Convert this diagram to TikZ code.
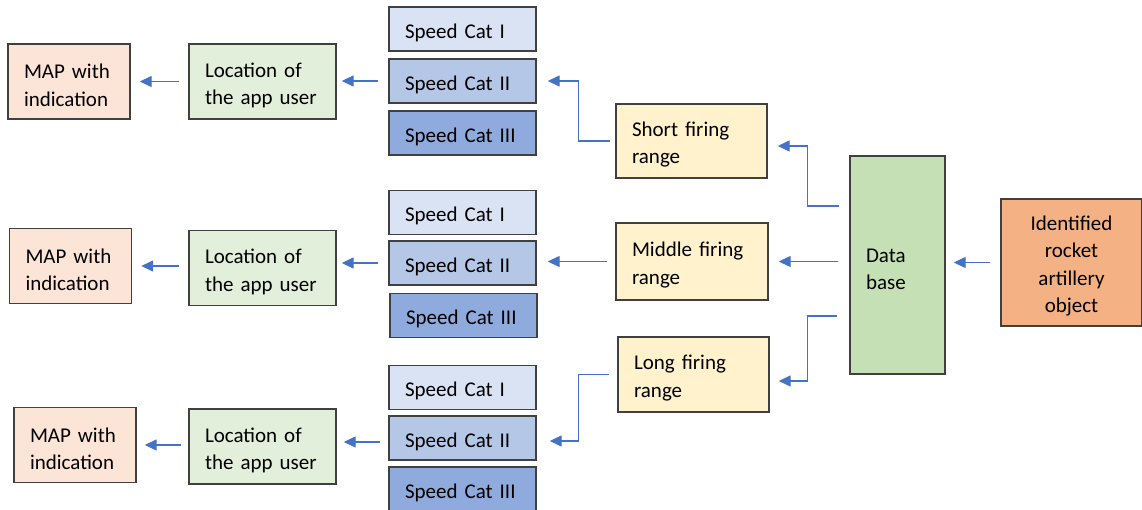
\documentclass[tikz,border=0pt]{standalone}
\usepackage{fontspec}
\setmainfont{Carlito}
\usetikzlibrary{arrows.meta}

\definecolor{mapfill}{HTML}{FCE4D6}
\definecolor{locfill}{HTML}{E2EFDA}
\definecolor{spdone}{HTML}{DAE3F3}
\definecolor{spdtwo}{HTML}{B4C7E7}
\definecolor{spdthree}{HTML}{8FAADC}
\definecolor{rangefill}{HTML}{FFF2CC}
\definecolor{dbfill}{HTML}{C5E0B4}
\definecolor{identfill}{HTML}{F4B183}
\definecolor{boxline}{HTML}{404040}
\definecolor{arrowblue}{HTML}{4472C4}

\tikzset{
	box/.style={draw=boxline,line width=1.4pt,inner xsep=16pt,inner ysep=0pt,align=left,font=\fontsize{21}{27.5}\selectfont,execute at begin node={\rule{0pt}{22pt}}},
	mapbox/.style={box,fill=mapfill,text width=90pt,minimum height=75pt},
	locbox/.style={box,fill=locfill,text width=115pt,minimum height=75pt},
	spdbox/.style={box,text width=115pt,minimum height=44pt},
	rangebox/.style={box,fill=rangefill,text width=119pt,minimum height=75pt},
	arr/.style={draw=arrowblue,line width=1.4pt,-{Triangle[length=12pt,width=11pt]}}
}

\begin{document}
\begin{tikzpicture}[x=1pt,y=-1pt]
	\useasboundingbox (0,0) rectangle (1142,510);
	
	% rectangle identified object
	\node[box,fill=identfill,align=center,text width=109pt,minimum height=127pt] (ident) at(1071.5,262.5) {Identified\\rocket\\artillery\\object};
	
	% rectangle data base
	\node[box,fill=dbfill,text width=63pt,minimum height=218pt] (db) at(897.5,265) {Data\\base};
	
	% rectangles firing range
	\node[rangebox,minimum height=74pt] (short) at(691.5,141) {Short firing\\range};
	\node[rangebox,text width=120pt,minimum height=77pt] (middle) at(692,261.5) {Middle firing\\range};
	\node[rangebox] (long) at(693.5,374.5) {Long firing\\range};
	
	% rectangles speed categories (short)
	\node[spdbox,fill=spdone] (spd11) at(462.5,29) {Speed Cat I};
	\node[spdbox,fill=spdtwo] (spd12) at(462.5,81) {Speed Cat II};
	\node[spdbox,fill=spdthree] (spd13) at(462.5,133) {Speed Cat III};
	
	% rectangles speed categories (middle)
	\node[spdbox,fill=spdone] (spd21) at(462.5,212.5) {Speed Cat I};
	\node[spdbox,fill=spdtwo] (spd22) at(462.5,263) {Speed Cat II};
	\node[spdbox,fill=spdthree] (spd23) at(463.5,315.5) {Speed Cat III};
	
	% rectangles speed categories (long)
	\node[spdbox,fill=spdone] (spd31) at(462.5,387.5) {Speed Cat I};
	\node[spdbox,fill=spdtwo] (spd32) at(462.5,438) {Speed Cat II};
	\node[spdbox,fill=spdthree] (spd33) at(462.5,489) {Speed Cat III};
	
	% rectangles location
	\node[locbox] (loc1) at(262.5,81.5) {Location of\\the app user};
	\node[locbox] (loc2) at(262.5,268) {Location of\\the app user};
	\node[locbox] (loc3) at(262.5,446.5) {Location of\\the app user};
	
	% rectangles map
	\node[mapbox] (map1) at(69,81.5) {MAP with\\indication};
	\node[mapbox] (map2) at(70.5,266) {MAP with\\indication};
	\node[mapbox] (map3) at(75,445) {MAP with\\indication};
	
	% arrows data base
	\draw[arr,shorten <=10pt,shorten >=8pt] (ident.west) -- (ident.west -| db.east);
	\draw[arr,shorten <=10pt,shorten >=10pt] ([yshift=59pt]db.west) -- ++(-42,0) |- ([yshift=-5pt]short.east);
	\draw[arr,shorten <=11pt,shorten >=10pt] (db.west |- middle.east) -- (middle.east);
	\draw[arr,shorten <=12pt,shorten >=9pt] ([yshift=-51pt]db.west) -- ++(-42,0) |- ([yshift=-6.5pt]long.east);
	
	% arrows firing range
	\draw[arr,shorten <=5pt,shorten >=11pt] (short.west) -- ++(-37,0) |- (spd12.east);
	\draw[arr,shorten <=8pt,shorten >=11pt] (middle.west) -- (middle.west -| spd22.east);
	\draw[arr,shorten <=8pt,shorten >=13pt] (long.west) -- ++(-39,0) |- ([yshift=-3pt]spd32.east);
	
	% arrows location
	\draw[arr,shorten <=10pt,shorten >=5pt] (spd12.west) -- (spd12.west -| loc1.east);
	\draw[arr,shorten <=10pt,shorten >=5pt] (spd22.west) -- (spd22.west -| loc2.east);
	\draw[arr,shorten <=8pt,shorten >=7pt] ([yshift=-4pt]spd32.west) -- ([yshift=-4pt]spd32.west -| loc3.east);
	
	% arrows map
	\draw[arr,shorten <=9pt,shorten >=9pt] (loc1.west) -- (loc1.west -| map1.east);
	\draw[arr,shorten <=9pt,shorten >=9pt] (loc2.west |- map2.east) -- (map2.east);
	\draw[arr,shorten <=7pt,shorten >=8pt] (loc3.west |- map3.east) -- (map3.east);
	
\end{tikzpicture}
\end{document}
